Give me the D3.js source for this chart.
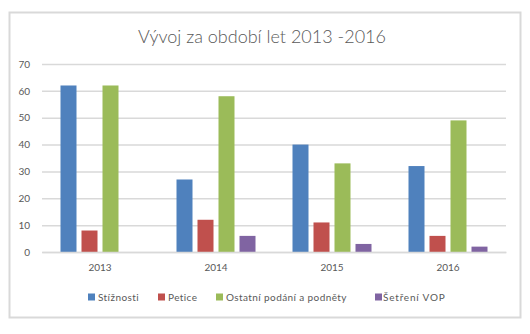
<!DOCTYPE html>
<html>
<head>
<meta charset="utf-8">
<script src="https://cdn.jsdelivr.net/npm/d3@7"></script>
<style>
  html, body { margin: 0; padding: 0; background: #fff; }
  svg { display: block; }
</style>
</head>
<body>
<svg id="chart" width="530" height="334"></svg>
<script>
// Data
const years = ["2013", "2014", "2015", "2016"];
const seriesNames = ["Stížnosti", "Petice", "Ostatní podání a podněty", "Šetření VOP"];
const stiznosti = [62, 27, 40, 32];
const petice = [8, 12, 11, 6];
const ostatni = [62, 58, 33, 49];
const setreni = [0, 6, 3, 2];
const yTicks = [0, 10, 20, 30, 40, 50, 60, 70];
const colors = ["#4f81bd", "#c0504d", "#9bbb59", "#8064a2"];
const title = "Vývoj za období let 2013 -2016";

const seriesValues = [stiznosti, petice, ostatni, setreni];

const svg = d3.select("#chart");
const font = "Lato, 'Open Sans', sans-serif";
const textColor = "#595959";

// Outer frame
svg.append("rect")
  .attr("x", 9.5).attr("y", 12.5)
  .attr("width", 511).attr("height", 305)
  .attr("fill", "#fff")
  .attr("stroke", "#d9d9d9").attr("stroke-width", 2);

// Title
svg.append("text")
  .attr("x", 262).attr("y", 43)
  .attr("text-anchor", "middle")
  .attr("font-family", font)
  .attr("font-weight", 300)
  .attr("font-size", 18)
  .attr("fill", textColor)
  .text(title);

const plot = { left: 42, right: 506, top: 64, bottom: 252 };

const y = d3.scaleLinear().domain([0, 70]).range([plot.bottom, plot.top]);
const x0 = d3.scaleBand().domain(years).range([plot.left, plot.right]).padding(0);
const groupWidth = 79;
const x1 = d3.scaleBand().domain(seriesNames).range([0, groupWidth]).paddingInner(5 / 21).paddingOuter(0);

// Gridlines
const yAxis = d3.axisLeft(y).tickValues(yTicks).tickSize(-(plot.right - plot.left)).tickPadding(12);
const gy = svg.append("g").attr("transform", `translate(${plot.left},0)`).call(yAxis);
gy.select(".domain").remove();
gy.selectAll(".tick line").attr("stroke", "#d9d9d9").attr("stroke-width", 1.5);
gy.selectAll(".tick text")
  .attr("font-family", font).attr("font-size", 10).attr("fill", textColor)
  .attr("x", -12);

// Bars
const groups = svg.append("g").selectAll("g")
  .data(years)
  .join("g")
  .attr("transform", d => `translate(${x0(d) + (x0.bandwidth() - groupWidth) / 2},0)`);

groups.selectAll("rect")
  .data((d, i) => seriesNames.map((s, j) => ({ s, j, v: seriesValues[j][i] })))
  .join("rect")
  .attr("x", d => x1(d.s))
  .attr("width", x1.bandwidth())
  .attr("y", d => y(d.v))
  .attr("height", d => y(0) - y(d.v))
  .attr("fill", d => colors[d.j]);

// Category axis
const xAxis = d3.axisBottom(x0).tickSize(0).tickPadding(12);
const gx = svg.append("g").attr("transform", `translate(0,${plot.bottom})`).call(xAxis);
gx.select(".domain").attr("stroke", "#d9d9d9").attr("stroke-width", 1.5);
gx.selectAll(".tick text")
  .attr("font-family", font).attr("font-size", 10).attr("fill", textColor);

// Legend
const legendX = [88, 158, 216, 375];
const legend = svg.append("g").selectAll("g")
  .data(seriesNames)
  .join("g")
  .attr("transform", (d, i) => `translate(${legendX[i]},297)`);
legend.append("rect")
  .attr("x", 0).attr("y", -3.5).attr("width", 7).attr("height", 7)
  .attr("fill", (d, i) => colors[i]);
legend.append("text")
  .attr("x", (d, i) => i === 3 ? 8 : 10)
  .attr("y", 3.5)
  .attr("font-family", font).attr("font-size", 10)
  .attr("letter-spacing", (d, i) => i === 3 ? 0.8 : 0.4)
  .attr("fill", textColor)
  .text(d => d);
</script>
</body>
</html>
